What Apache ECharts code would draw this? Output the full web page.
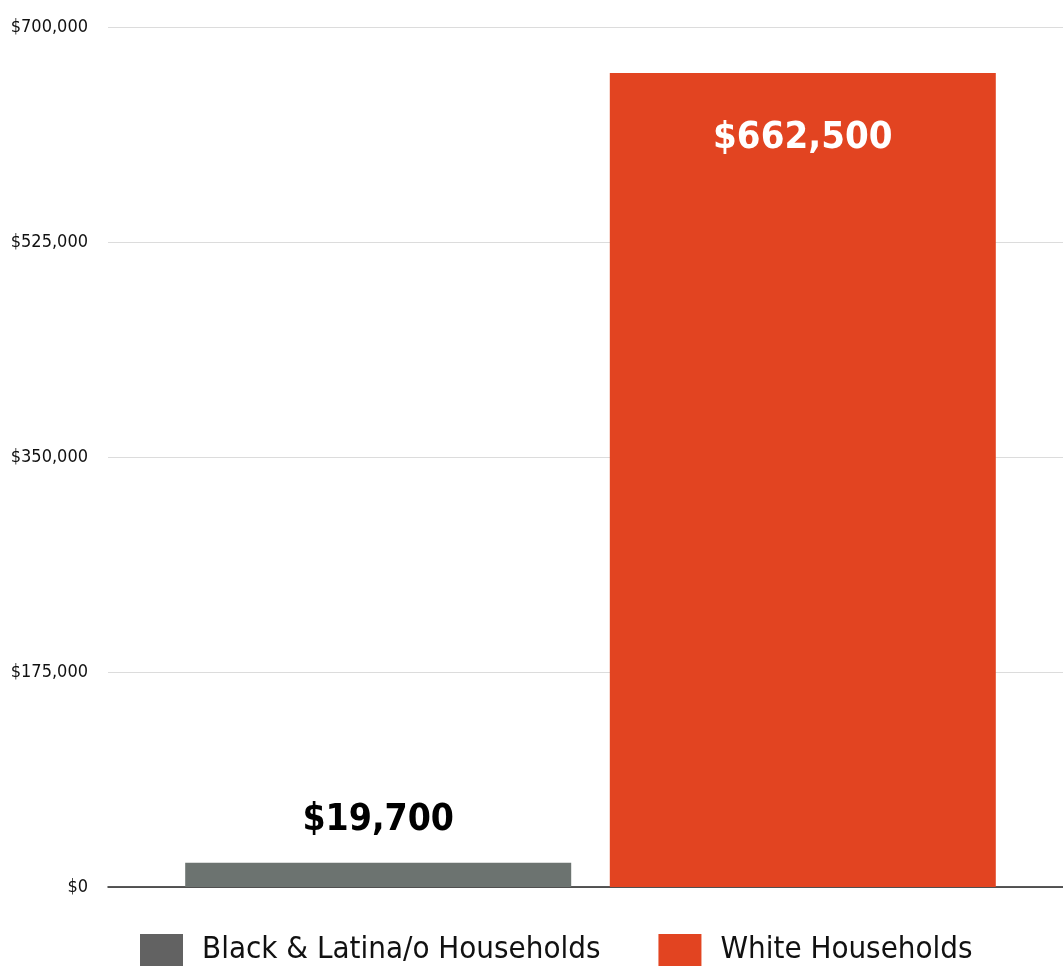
<!DOCTYPE html>
<html><head><meta charset="utf-8">
<script src="https://cdn.jsdelivr.net/npm/echarts@6/dist/echarts.min.js"></script>
<style>html,body{margin:0;padding:0;background:#fff}#c{width:1063px;height:968px}</style>
</head><body><div id="c"></div>
<script>
const categories = [''];
const seriesNames = ['Black & Latina/o Households', 'White Households'];
const blackLatinoValues = [19700];
const whiteValues = [662500];
const yTicks = [0, 175000, 350000, 525000, 700000];

const FONT = '"Liberation Sans Narrow", "DejaVu Sans Condensed", "Roboto Condensed", sans-serif';
const fmt = v => '$' + v.toLocaleString('en-US');

const chart = echarts.init(document.getElementById('c'));
chart.setOption({
  animation: false,
  backgroundColor: '#fff',
  grid: { left: 108, right: -10, top: 27, bottom: 81, containLabel: false, outerBoundsMode: 'none' },
  legend: {
    orient: 'horizontal',
    left: 135, top: 929, width: 1000,
    itemWidth: 43, itemHeight: 32, itemGap: 58,
    icon: 'rect',
    textStyle: { fontFamily: FONT, fontSize: 31, color: '#111', padding: [0, 0, 0, 14] },
    data: [
      { name: seriesNames[0], itemStyle: { color: '#626262' } },
      { name: seriesNames[1], itemStyle: { color: '#e24421' } }
    ]
  },
  xAxis: {
    type: 'category', data: categories,
    axisLine: { lineStyle: { color: '#222', width: 1.5 } },
    axisTick: { show: false }, axisLabel: { show: false }
  },
  yAxis: {
    type: 'value', min: yTicks[0], max: yTicks[yTicks.length - 1], interval: 175000,
    axisLine: { show: false }, axisTick: { show: false },
    splitLine: { lineStyle: { color: '#dcdcdc', width: 1 } },
    axisLabel: { formatter: fmt, fontFamily: FONT, fontSize: 18, color: '#111', margin: 20 }
  },
  series: [
    {
      name: seriesNames[0], type: 'bar', data: blackLatinoValues,
      barWidth: 386, barGap: '10%',
      itemStyle: { color: '#6c7370' },
      label: { show: true, position: 'top', distance: 24, formatter: p => fmt(p.value),
        fontFamily: FONT, fontWeight: 'bold', fontSize: 37, color: '#000' }
    },
    {
      name: seriesNames[1], type: 'bar', data: whiteValues,
      barWidth: 386,
      itemStyle: { color: '#e24421' },
      label: { show: true, position: 'insideTop', distance: 46, formatter: p => fmt(p.value),
        fontFamily: FONT, fontWeight: 'bold', fontSize: 38, color: '#fff' }
    }
  ]
});
</script></body></html>
